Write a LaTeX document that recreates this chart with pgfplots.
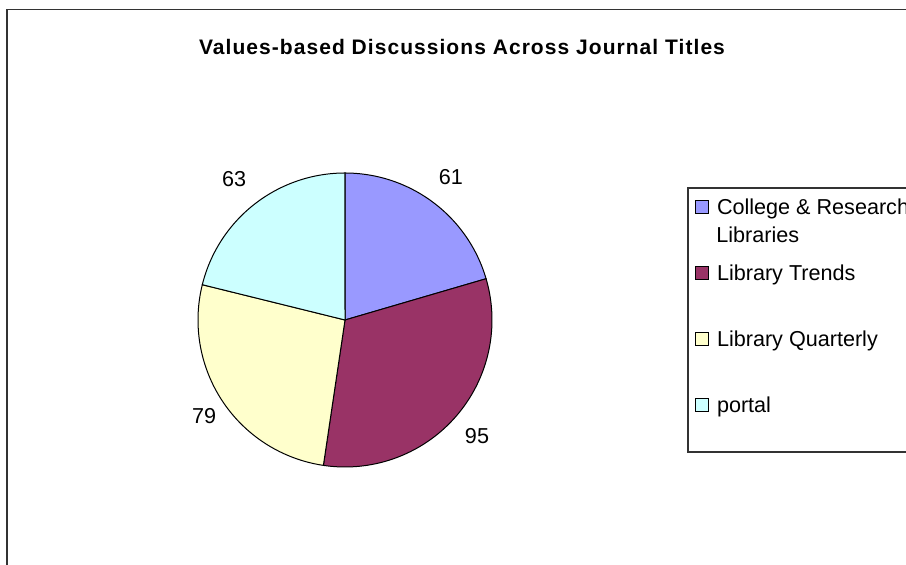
\documentclass[border=0pt]{standalone}
\usepackage{fontspec}
\setmainfont{Liberation Sans}
\usepackage{pgfplots}
\usepackage{pgfplotstable}
\pgfplotsset{compat=1.18}

\definecolor{crl}{HTML}{9999FF}
\definecolor{trends}{HTML}{993366}
\definecolor{quarterly}{HTML}{FFFFCC}
\definecolor{portal}{HTML}{CCFFFF}

% articles per journal
\pgfplotstableread{
name      value
CRL       61
Trends    95
Quarterly 79
portal    63
}\pietable

\newcommand\chartfont{\fontsize{10.8}{13}\selectfont}

\begin{document}
\begin{tikzpicture}
\pgfplotstablegetelem{0}{value}\of\pietable \let\vA\pgfplotsretval
\pgfplotstablegetelem{1}{value}\of\pietable \let\vB\pgfplotsretval
\pgfplotstablegetelem{2}{value}\of\pietable \let\vC\pgfplotsretval
\pgfplotstablegetelem{3}{value}\of\pietable \let\vD\pgfplotsretval
\pgfmathsetmacro\tot{\vA+\vB+\vC+\vD}
% slices start at 12 o'clock and run clockwise
\pgfmathsetmacro\aA{90}
\pgfmathsetmacro\aB{\aA-360*(\vA/\tot)}
\pgfmathsetmacro\aC{\aB-360*(\vB/\tot)}
\pgfmathsetmacro\aD{\aC-360*(\vC/\tot)}
\pgfmathsetmacro\aE{\aD-360*(\vD/\tot)}

% outer chart frame (only left and top edges are visible)
\draw[black!80, line width=0.7pt] (3.5pt,-2pt) -- (3.5pt,277.75pt) -- (460pt,277.75pt);

\node[font=\bfseries\fontsize{10.5}{12}\selectfont\addfontfeature{LetterSpace=5}] at (231pt,259pt)
  {Values-based Discussions Across Journal Titles};

% legend frame, runs off the right edge
\draw[black!80, line width=0.6pt] (344pt,188.5pt) rectangle (460pt,56.5pt);

\begin{axis}[
    hide axis,
    x=73.5pt, y=73.5pt,
    xmin=-1, xmax=1, ymin=-1, ymax=1,
    anchor=center, at={(172.5pt,122.5pt)},
    clip=false,
    legend style={
        at={(axis cs:2.381,0.8388)}, anchor=north west,
        draw=none, fill=none, inner sep=0pt, outer sep=0pt,
        row sep=22.5pt, column sep=4pt,
        font=\chartfont,
        nodes={inner sep=0pt, text height=9pt, text depth=1.5pt},
    },
    legend cell align=left,
    legend image code/.code={
        \draw[#1, line width=0.5pt] (0pt,-3.25pt) rectangle (6.5pt,3.25pt);
    },
]
\addplot[fill=crl, draw=black, line width=0.5pt, domain=\aB:\aA, samples=60, variable=\t]
    ({cos(\t)},{sin(\t)}) -- (0,0) -- cycle;
\addlegendentry{College \& Research}
\addplot[fill=trends, draw=black, line width=0.5pt, domain=\aC:\aB, samples=80, variable=\t]
    ({cos(\t)},{sin(\t)}) -- (0,0) -- cycle;
\addlegendentry{Library Trends}
\addplot[fill=quarterly, draw=black, line width=0.5pt, domain=\aD:\aC, samples=70, variable=\t]
    ({cos(\t)},{sin(\t)}) -- (0,0) -- cycle;
\addlegendentry{Library Quarterly}
\addplot[fill=portal, draw=black, line width=0.5pt, domain=\aE:\aD, samples=60, variable=\t]
    ({cos(\t)},{sin(\t)}) -- (0,0) -- cycle;
\addlegendentry{portal}

% value labels
\begin{scope}[every node/.style={font=\chartfont}]
\node at (axis cs:0.721,0.973) {61};
\node at (axis cs:0.898,-0.789) {95};
\node at (axis cs:-0.959,-0.653) {79};
\node at (axis cs:-0.755,0.959) {63};
\end{scope}
\end{axis}

\node[anchor=base west, inner sep=0pt, font=\chartfont] at (358pt,161.4pt) {Libraries};

\pgfresetboundingbox
\path[use as bounding box] (0,0) rectangle (453pt,282.5pt);
\end{tikzpicture}
\end{document}
